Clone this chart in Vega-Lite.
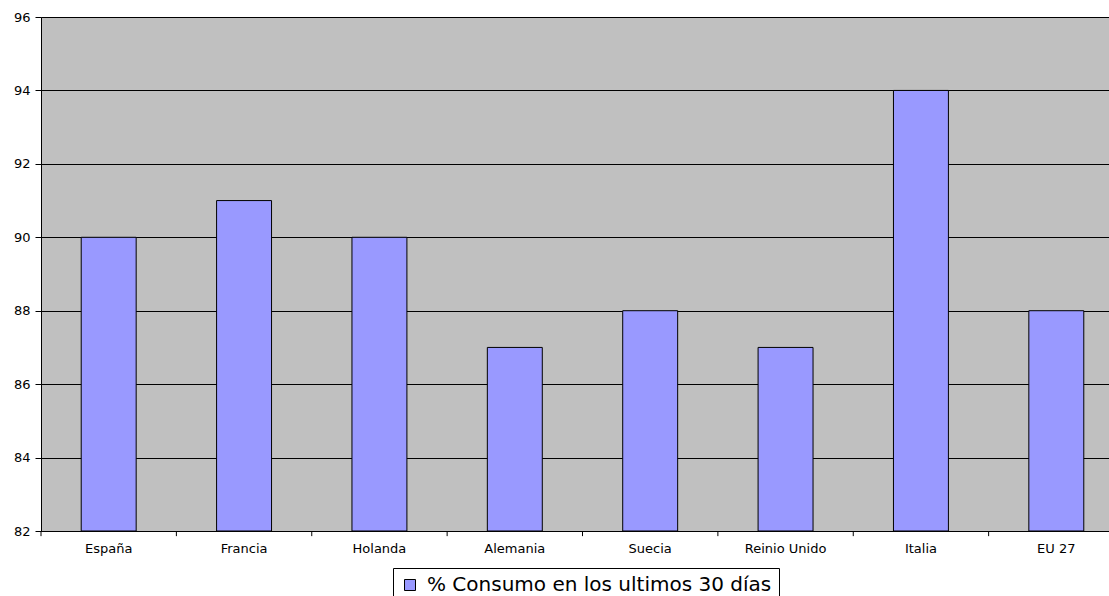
{
  "$schema": "https://vega.github.io/schema/vega-lite/v6.json",
  "width": 1083,
  "height": 514,
  "autosize": "none",
  "padding": {"left": 41, "top": 17, "right": -15, "bottom": 65},
  "background": "white",
  "data": {
    "values": [
      {"pais": "España", "valor": 90, "serie": "% Consumo en los ultimos 30 días"},
      {"pais": "Francia", "valor": 91, "serie": "% Consumo en los ultimos 30 días"},
      {"pais": "Holanda", "valor": 90, "serie": "% Consumo en los ultimos 30 días"},
      {"pais": "Alemania", "valor": 87, "serie": "% Consumo en los ultimos 30 días"},
      {"pais": "Suecia", "valor": 88, "serie": "% Consumo en los ultimos 30 días"},
      {"pais": "Reinio Unido", "valor": 87, "serie": "% Consumo en los ultimos 30 días"},
      {"pais": "Italia", "valor": 94, "serie": "% Consumo en los ultimos 30 días"},
      {"pais": "EU 27", "valor": 88, "serie": "% Consumo en los ultimos 30 días"}
    ]
  },
  "encoding": {
    "x": {
      "field": "pais",
      "type": "nominal",
      "sort": null,
      "scale": {"paddingInner": 0.594, "paddingOuter": 0.297},
      "axis": {
        "title": null,
        "labelAngle": 0,
        "labelFont": "DejaVu Sans",
        "labelFontSize": 13,
        "labelColor": "black",
        "labelPadding": 11,
        "ticks": false,
        "domainColor": "black",
        "grid": false
      }
    }
  },
  "layer": [
    {
      "mark": {"type": "bar", "stroke": "black", "strokeWidth": 1},
      "encoding": {
        "y": {
          "field": "valor",
          "type": "quantitative",
          "scale": {"domain": [82, 96], "zero": false, "nice": false},
          "axis": {
            "title": null,
            "values": [82, 84, 86, 88, 90, 92, 94, 96],
            "labelFont": "DejaVu Sans",
            "labelFontSize": 13,
            "labelColor": "black",
            "labelPadding": 5,
            "tickColor": "black",
            "tickSize": 6,
            "domainColor": "black",
            "grid": true,
            "gridColor": "black",
            "gridOpacity": 1
          }
        },
        "y2": {"datum": 82},
        "color": {
          "field": "serie",
          "type": "nominal",
          "scale": {"range": ["#9999FF"]},
          "legend": {
            "title": null,
            "orient": "none",
            "legendX": 352,
            "legendY": 551,
            "labelFont": "DejaVu Sans",
            "labelFontSize": 20,
            "labelColor": "black",
            "labelLimit": 0,
            "symbolType": "square",
            "symbolSize": 121,
            "symbolStrokeColor": "black",
            "symbolStrokeWidth": 1,
            "symbolFillColor": "#9999FF",
            "strokeColor": "black",
            "padding": 7,
            "labelOffset": 7
          }
        }
      }
    },
    {
      "mark": {"type": "rule", "color": "black", "strokeWidth": 1, "clip": false},
      "encoding": {
        "x": {"field": "pais", "type": "nominal", "sort": null, "bandPosition": -0.7315},
        "y": {"datum": 82},
        "y2": {"datum": 81.86}
      }
    }
  ],
  "config": {
    "view": {"fill": "#C0C0C0", "stroke": "#9a9a9a"}
  }
}
